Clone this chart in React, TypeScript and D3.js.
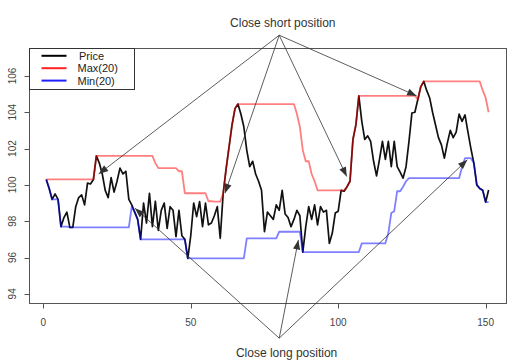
import React from 'react';
import * as d3 from 'd3';

const price = [
  100.3, 99.8, 99.2, 99.5, 99.2, 97.7, 98.2, 98.5, 97.66, 97.66,
  98.8, 99.3, 99.45, 98.9, 100.1, 100.05, 100.3, 101.6, 101.2, 100.6,
  99.7, 99.3, 100.4, 99.6, 100.2, 100.92, 100.6, 100.75, 99.2, 98.9,
  98.5, 98.1, 97.0, 99.0, 97.9, 99.54, 97.7, 99.1, 97.5, 98.6,
  99.0, 97.6, 98.8, 98.6, 97.15, 98.6, 97.2, 97.0, 95.95, 97.2,
  99.0, 98.25, 99.08, 97.7, 99.0, 97.8, 97.9, 98.3, 98.8, 97.06,
  99.54, 100.9, 102.1, 103.3, 104.2, 104.45, 103.9, 103.2, 101.9, 101.0,
  101.3, 100.6, 100.2, 99.7, 97.42, 98.5, 98.3, 98.1, 98.9, 98.6,
  99.7, 98.4, 98.2, 97.7, 98.1, 98.6, 98.3, 96.3, 97.7, 98.8,
  98.1, 98.9, 97.8, 98.8, 98.5, 98.6, 96.78, 97.35, 98.45, 98.55,
  99.7, 99.65, 99.9, 100.2, 102.5, 103.3, 104.9, 103.5, 102.5, 102.7,
  102.4, 101.3, 100.5, 101.4, 102.4, 101.4, 102.4, 101.0, 102.4, 101.0,
  100.7, 100.37, 101.0, 102.4, 103.96, 104.0, 104.7, 105.4, 105.7, 105.2,
  104.8, 104.0, 103.3, 102.6, 102.2, 101.47, 102.3, 103.0, 102.6, 102.9,
  103.9, 103.5, 103.85, 102.9, 102.0, 101.2, 100.0, 99.8, 99.7, 99.05,
  99.72,
];

const max20 = [
  100.3, 100.3, 100.3, 100.3, 100.3, 100.3, 100.3, 100.3, 100.3, 100.3,
  100.3, 100.3, 100.3, 100.3, 100.3, 100.3, 100.3, 101.6, 101.6, 101.6,
  101.6, 101.6, 101.6, 101.6, 101.6, 101.6, 101.6, 101.6, 101.6, 101.6,
  101.6, 101.6, 101.6, 101.6, 101.6, 101.6, 101.6, 101.2, 100.92, 100.92,
  100.92, 100.92, 100.92, 100.92, 100.92, 100.75, 100.75, 99.54, 99.54, 99.54,
  99.54, 99.54, 99.54, 99.54, 99.54, 99.1, 99.1, 99.08, 99.08, 99.08,
  99.54, 100.9, 102.1, 103.3, 104.2, 104.45, 104.45, 104.45, 104.45, 104.45,
  104.45, 104.45, 104.45, 104.45, 104.45, 104.45, 104.45, 104.45, 104.45, 104.45,
  104.45, 104.45, 104.45, 104.45, 104.45, 103.9, 103.2, 101.9, 101.3, 101.3,
  100.6, 100.2, 99.7, 99.7, 99.7, 99.7, 99.7, 99.7, 99.7, 99.7,
  99.7, 99.7, 99.9, 100.2, 102.5, 103.3, 104.9, 104.9, 104.9, 104.9,
  104.9, 104.9, 104.9, 104.9, 104.9, 104.9, 104.9, 104.9, 104.9, 104.9,
  104.9, 104.9, 104.9, 104.9, 104.9, 104.9, 104.7, 105.4, 105.7, 105.7,
  105.7, 105.7, 105.7, 105.7, 105.7, 105.7, 105.7, 105.7, 105.7, 105.7,
  105.7, 105.7, 105.7, 105.7, 105.7, 105.7, 105.7, 105.7, 105.2, 104.8,
  104.0,
];

const min20 = [
  100.3, 99.8, 99.2, 99.2, 99.2, 97.7, 97.7, 97.7, 97.66, 97.66,
  97.66, 97.66, 97.66, 97.66, 97.66, 97.66, 97.66, 97.66, 97.66, 97.66,
  97.66, 97.66, 97.66, 97.66, 97.66, 97.66, 97.66, 97.66, 97.66, 98.8,
  98.5, 98.1, 97.0, 97.0, 97.0, 97.0, 97.0, 97.0, 97.0, 97.0,
  97.0, 97.0, 97.0, 97.0, 97.0, 97.0, 97.0, 97.0, 95.95, 95.95,
  95.95, 95.95, 95.95, 95.95, 95.95, 95.95, 95.95, 95.95, 95.95, 95.95,
  95.95, 95.95, 95.95, 95.95, 95.95, 95.95, 95.95, 95.95, 97.06, 97.06,
  97.06, 97.06, 97.06, 97.06, 97.06, 97.06, 97.06, 97.06, 97.06, 97.42,
  97.42, 97.42, 97.42, 97.42, 97.42, 97.42, 97.42, 96.3, 96.3, 96.3,
  96.3, 96.3, 96.3, 96.3, 96.3, 96.3, 96.3, 96.3, 96.3, 96.3,
  96.3, 96.3, 96.3, 96.3, 96.3, 96.3, 96.3, 96.78, 96.78, 96.78,
  96.78, 96.78, 96.78, 96.78, 96.78, 96.78, 97.35, 98.45, 98.55, 99.65,
  99.65, 99.9, 100.2, 100.37, 100.37, 100.37, 100.37, 100.37, 100.37, 100.37,
  100.37, 100.37, 100.37, 100.37, 100.37, 100.37, 100.37, 100.37, 100.37, 100.37,
  100.37, 101.0, 101.47, 101.47, 101.47, 101.2, 100.0, 99.8, 99.7, 99.05,
  99.05,
];

const xTicks = [0, 50, 100, 150];
const yTicks = [94, 96, 98, 100, 102, 104, 106];
const legendLabels = ['Price', 'Max(20)', 'Min(20)'];
const legendColors = ['#000000', '#ff2020', '#2020ff'];

const shortLabel = 'Close short position';
const longLabel = 'Close long position';
const shortOrigin: [number, number] = [80, 108.24];
const longOrigin: [number, number] = [80, 91.56];
const shortTargets: [number, number][] = [
  [18.8, 100.6], [61.6, 99.54], [102.9, 100.46], [126.6, 104.9],
];
const longTargets: [number, number][] = [
  [31.1, 98.71], [86.5, 96.97], [143.8, 101.38],
];

const FONT = '"Liberation Sans", Arial, Helvetica, sans-serif';

function arrowHead(x0: number, y0: number, x1: number, y1: number, L = 9.5, w = 3.6) {
  const a = Math.atan2(y1 - y0, x1 - x0);
  const bx = x1 - L * Math.cos(a);
  const by = y1 - L * Math.sin(a);
  const px = -Math.sin(a) * w;
  const py = Math.cos(a) * w;
  return `M${x1},${y1}L${bx + px},${by + py}L${bx - px},${by - py}Z`;
}

export default function App() {
  const W = 531;
  const H = 363;
  const x = d3.scaleLinear().domain([-5, 157]).range([28.55, 506.3]);
  const y = d3.scaleLinear().domain([93.48, 107.52]).range([303.3, 48.3]);

  const mk = (arr: number[]) =>
    d3.line<number>().x((_, i) => x(i + 1)).y((d) => y(d))(arr) || '';

  const left = 29.5, right = 506.5, top = 48.5, bottom = 303.5;
  const legendRowY = [55.8, 68.2, 80.6];

  const renderArrows = (origin: [number, number], targets: [number, number][], key: string) => {
    const ox = x(origin[0]);
    const oy = y(origin[1]);
    return targets.map((t, i) => {
      const tx = x(t[0]);
      const ty = y(t[1]);
      return (
        <g key={key + i}>
          <line x1={ox} y1={oy} x2={tx} y2={ty} stroke="#333" strokeWidth={0.8} />
          <path d={arrowHead(ox, oy, tx, ty)} fill="#333" />
        </g>
      );
    });
  };

  return (
    <svg width={W} height={H} style={{ position: 'absolute', left: 0, top: 0, background: '#fff' }}
      fontFamily={FONT}>
      <rect x={0} y={0} width={W} height={H} fill="#fff" />
      {/* series */}
      <path d={mk(price)} fill="none" stroke="#111" strokeWidth={1.7} strokeLinejoin="round" />
      <path d={mk(max20)} fill="none" stroke="rgba(255,0,0,0.5)" strokeWidth={1.8} strokeLinejoin="round" />
      <path d={mk(min20)} fill="none" stroke="rgba(0,0,255,0.5)" strokeWidth={1.8} strokeLinejoin="round" />

      {/* box */}
      <rect x={left} y={top} width={right - left} height={bottom - top} fill="none" stroke="#555" strokeWidth={1} />

      {/* y axis */}
      {yTicks.map((t) => (
        <g key={'y' + t}>
          <line x1={left} x2={left - 5} y1={Math.round(y(t)) + 0.5} y2={Math.round(y(t)) + 0.5} stroke="#555" />
          <text transform={`translate(15.5,${y(t)}) rotate(-90)`} textAnchor="middle" fontSize={10} fill="#444">
            {t}
          </text>
        </g>
      ))}
      {/* x axis */}
      {xTicks.map((t) => (
        <g key={'x' + t}>
          <line x1={Math.round(x(t)) + 0.5} x2={Math.round(x(t)) + 0.5} y1={bottom} y2={bottom + 5} stroke="#555" />
          <text x={x(t)} y={326} textAnchor="middle" fontSize={10} fill="#444">
            {t}
          </text>
        </g>
      ))}

      {/* legend */}
      <rect x={left} y={top} width={134.5 - left} height={89.5 - top} fill="#fff" stroke="#333" strokeWidth={1} />
      {legendLabels.map((lab, i) => {
        const ly = legendRowY[i];
        return (
          <g key={lab}>
            <line x1={41.5} x2={66.5} y1={ly} y2={ly} stroke={legendColors[i]} strokeWidth={2} />
            <text x={i === 0 ? 79 : 77.5} y={ly + 3.9} fontSize={11} fill="#222">
              {lab}
            </text>
          </g>
        );
      })}

      {/* annotations */}
      {renderArrows(shortOrigin, shortTargets, 's')}
      {renderArrows(longOrigin, longTargets, 'l')}
      <text x={282.8} y={27} textAnchor="middle" fontSize={12} fill="#333">{shortLabel}</text>
      <text x={286.6} y={356.5} textAnchor="middle" fontSize={12} fill="#333">{longLabel}</text>
    </svg>
  );
}
